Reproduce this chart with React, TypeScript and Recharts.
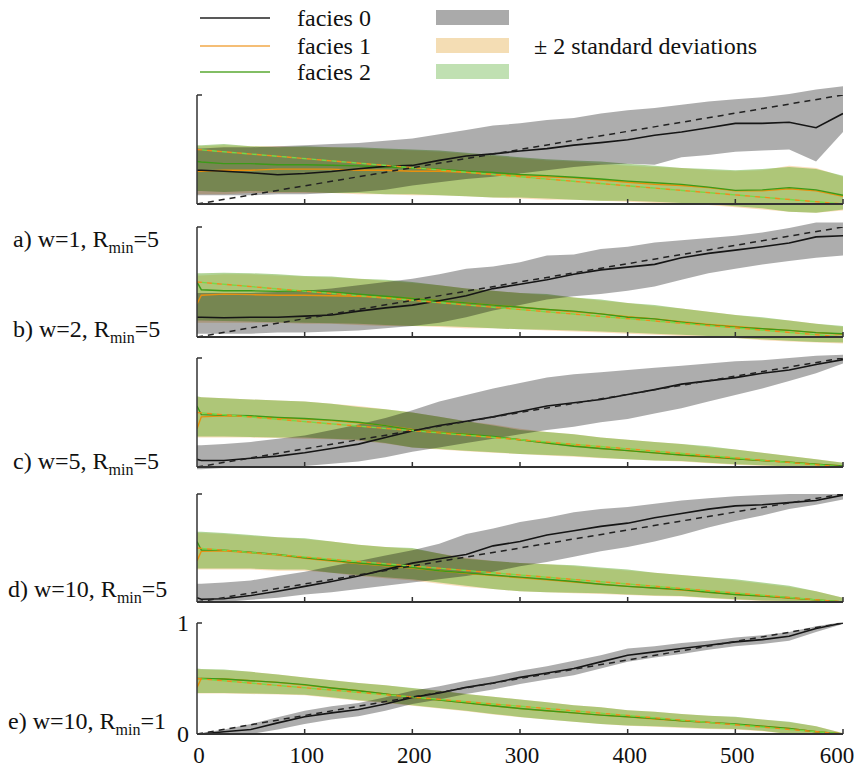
import React from "react";
import { Area, ComposedChart, Line, XAxis, YAxis } from "recharts";

// sample positions along the x axis (extra point at 4 for the start-up jump)
const xs = [0, 4, 25, 50, 75, 100, 125, 150, 175, 200, 225, 250, 275, 300, 325, 350, 375, 400, 425, 450, 475, 500, 525, 550, 575, 600];
const xTicks = [0, 100, 200, 300, 400, 500, 600];

// theoretical proportions (dashed lines)
const idealX = [0, 600];
const ideal0 = [0, 1];
const ideal12 = [0.5, 0];

// a) w=1, Rmin=5
const aF0 = [0.31, 0.31, 0.30, 0.286, 0.268, 0.28, 0.298, 0.323, 0.345, 0.354, 0.40, 0.44, 0.46, 0.486, 0.508, 0.54, 0.563, 0.59, 0.63, 0.66, 0.70, 0.74, 0.74, 0.75, 0.70, 0.83];
const aF0Hi = [0.51, 0.51, 0.52, 0.52, 0.53, 0.54, 0.55, 0.56, 0.58, 0.60, 0.64, 0.68, 0.72, 0.74, 0.77, 0.79, 0.83, 0.86, 0.88, 0.91, 0.94, 0.96, 0.98, 1.01, 1.05, 1.08];
const aF0Lo = [0.08, 0.08, 0.08, 0.08, 0.09, 0.09, 0.10, 0.11, 0.13, 0.17, 0.20, 0.23, 0.25, 0.28, 0.31, 0.34, 0.36, 0.37, 0.36, 0.43, 0.45, 0.48, 0.49, 0.50, 0.39, 0.66];
const aF1 = [0.30, 0.30, 0.31, 0.31, 0.32, 0.32, 0.32, 0.31, 0.31, 0.30, 0.30, 0.29, 0.27, 0.26, 0.25, 0.24, 0.22, 0.20, 0.18, 0.17, 0.15, 0.12, 0.12, 0.14, 0.12, 0.07];
const aF1Hi = [0.53, 0.53, 0.54, 0.53, 0.53, 0.52, 0.52, 0.51, 0.50, 0.49, 0.48, 0.46, 0.44, 0.42, 0.40, 0.39, 0.37, 0.35, 0.34, 0.33, 0.31, 0.30, 0.31, 0.35, 0.33, 0.25];
const aF1Lo = [0.09, 0.09, 0.09, 0.10, 0.10, 0.10, 0.10, 0.09, 0.09, 0.08, 0.08, 0.07, 0.06, 0.05, 0.04, 0.04, 0.03, 0.02, 0.01, 0.0, -0.01, -0.03, -0.05, -0.07, -0.08, -0.06];
const aF2 = [0.39, 0.385, 0.37, 0.37, 0.36, 0.36, 0.355, 0.35, 0.34, 0.33, 0.32, 0.30, 0.29, 0.27, 0.26, 0.245, 0.23, 0.21, 0.195, 0.18, 0.155, 0.125, 0.13, 0.15, 0.13, 0.08];
const aF2Hi = [0.54, 0.54, 0.55, 0.53, 0.52, 0.53, 0.52, 0.52, 0.51, 0.50, 0.49, 0.47, 0.45, 0.43, 0.41, 0.40, 0.39, 0.37, 0.35, 0.33, 0.32, 0.31, 0.32, 0.34, 0.32, 0.26];
const aF2Lo = [0.12, 0.12, 0.11, 0.12, 0.11, 0.11, 0.10, 0.10, 0.09, 0.09, 0.08, 0.07, 0.06, 0.06, 0.05, 0.04, 0.03, 0.03, 0.02, 0.01, 0.0, -0.02, -0.04, -0.07, -0.08, -0.05];

// b) w=2, Rmin=5
const bF0 = [0.18, 0.18, 0.175, 0.18, 0.18, 0.19, 0.20, 0.235, 0.265, 0.29, 0.33, 0.375, 0.44, 0.48, 0.52, 0.57, 0.61, 0.635, 0.66, 0.72, 0.76, 0.79, 0.82, 0.855, 0.91, 0.92];
const bF0Hi = [0.40, 0.40, 0.40, 0.40, 0.41, 0.42, 0.44, 0.47, 0.50, 0.53, 0.57, 0.62, 0.64, 0.68, 0.74, 0.75, 0.80, 0.82, 0.86, 0.88, 0.90, 0.92, 0.95, 0.99, 1.04, 1.04];
const bF0Lo = [0.03, 0.03, 0.03, 0.03, 0.04, 0.04, 0.05, 0.06, 0.08, 0.10, 0.13, 0.18, 0.24, 0.29, 0.34, 0.37, 0.39, 0.42, 0.46, 0.52, 0.58, 0.62, 0.66, 0.69, 0.72, 0.74];
const bF1 = [0.30, 0.38, 0.39, 0.385, 0.38, 0.38, 0.375, 0.37, 0.36, 0.35, 0.33, 0.31, 0.29, 0.27, 0.25, 0.23, 0.21, 0.185, 0.165, 0.14, 0.115, 0.095, 0.075, 0.06, 0.04, 0.025];
const bF1Hi = [0.56, 0.56, 0.57, 0.57, 0.56, 0.55, 0.54, 0.53, 0.51, 0.49, 0.47, 0.44, 0.42, 0.40, 0.38, 0.36, 0.33, 0.31, 0.28, 0.26, 0.23, 0.20, 0.17, 0.15, 0.12, 0.09];
const bF1Lo = [0.13, 0.13, 0.13, 0.13, 0.13, 0.12, 0.12, 0.11, 0.10, 0.10, 0.09, 0.08, 0.08, 0.07, 0.06, 0.05, 0.04, 0.03, 0.02, 0.01, 0.0, -0.01, -0.03, -0.04, -0.05, -0.06];
const bF2 = [0.50, 0.43, 0.42, 0.42, 0.415, 0.42, 0.41, 0.39, 0.37, 0.35, 0.33, 0.31, 0.29, 0.27, 0.25, 0.235, 0.21, 0.18, 0.165, 0.135, 0.11, 0.09, 0.075, 0.06, 0.04, 0.03];
const bF2Hi = [0.58, 0.58, 0.585, 0.58, 0.57, 0.555, 0.55, 0.53, 0.52, 0.50, 0.47, 0.44, 0.42, 0.40, 0.39, 0.36, 0.34, 0.31, 0.29, 0.26, 0.23, 0.20, 0.18, 0.15, 0.12, 0.10];
const bF2Lo = [0.15, 0.15, 0.145, 0.14, 0.135, 0.13, 0.125, 0.12, 0.11, 0.10, 0.10, 0.09, 0.08, 0.07, 0.065, 0.06, 0.05, 0.04, 0.03, 0.02, 0.01, -0.01, -0.02, -0.035, -0.045, -0.05];

// c) w=5, Rmin=5
const cF0 = [0.07, 0.06, 0.06, 0.08, 0.10, 0.13, 0.17, 0.21, 0.27, 0.33, 0.38, 0.42, 0.46, 0.51, 0.56, 0.59, 0.62, 0.665, 0.71, 0.76, 0.79, 0.82, 0.86, 0.89, 0.94, 0.985];
const cF0Hi = [0.20, 0.20, 0.21, 0.23, 0.26, 0.29, 0.34, 0.39, 0.45, 0.52, 0.60, 0.66, 0.72, 0.77, 0.82, 0.85, 0.87, 0.89, 0.91, 0.93, 0.95, 0.97, 0.98, 1.0, 1.02, 1.03];
const cF0Lo = [-0.02, -0.02, -0.01, 0.0, 0.0, 0.01, 0.03, 0.05, 0.09, 0.14, 0.18, 0.22, 0.26, 0.30, 0.34, 0.37, 0.41, 0.44, 0.49, 0.54, 0.60, 0.66, 0.72, 0.79, 0.86, 0.95];
const cF1 = [0.35, 0.46, 0.47, 0.465, 0.45, 0.44, 0.425, 0.405, 0.38, 0.345, 0.32, 0.30, 0.275, 0.25, 0.22, 0.195, 0.17, 0.15, 0.13, 0.11, 0.09, 0.075, 0.06, 0.045, 0.025, 0.01];
const cF1Hi = [0.64, 0.64, 0.63, 0.62, 0.61, 0.60, 0.58, 0.56, 0.53, 0.50, 0.46, 0.42, 0.39, 0.35, 0.32, 0.30, 0.27, 0.25, 0.23, 0.21, 0.18, 0.16, 0.13, 0.10, 0.07, 0.04];
const cF1Lo = [0.27, 0.27, 0.27, 0.27, 0.265, 0.26, 0.255, 0.24, 0.215, 0.18, 0.16, 0.145, 0.13, 0.12, 0.105, 0.095, 0.08, 0.07, 0.06, 0.05, 0.035, 0.02, 0.01, 0.0, -0.005, -0.01];
const cF2 = [0.56, 0.48, 0.475, 0.47, 0.455, 0.445, 0.43, 0.41, 0.38, 0.34, 0.315, 0.30, 0.28, 0.25, 0.22, 0.19, 0.17, 0.15, 0.13, 0.11, 0.095, 0.075, 0.06, 0.045, 0.025, 0.01];
const cF2Hi = [0.65, 0.64, 0.63, 0.62, 0.61, 0.60, 0.58, 0.55, 0.53, 0.50, 0.46, 0.42, 0.38, 0.34, 0.32, 0.30, 0.27, 0.25, 0.23, 0.21, 0.19, 0.16, 0.13, 0.10, 0.07, 0.04];
const cF2Lo = [0.28, 0.28, 0.28, 0.275, 0.27, 0.27, 0.26, 0.25, 0.22, 0.18, 0.165, 0.15, 0.135, 0.12, 0.11, 0.10, 0.085, 0.07, 0.06, 0.055, 0.04, 0.025, 0.015, 0.005, 0.0, -0.005];

// d) w=10, Rmin=5
const dF0 = [0.04, 0.025, 0.03, 0.06, 0.10, 0.145, 0.19, 0.24, 0.30, 0.36, 0.40, 0.44, 0.52, 0.56, 0.62, 0.66, 0.70, 0.73, 0.78, 0.82, 0.86, 0.89, 0.90, 0.92, 0.94, 0.99];
const dF0Hi = [0.17, 0.17, 0.18, 0.20, 0.24, 0.28, 0.33, 0.38, 0.43, 0.48, 0.54, 0.63, 0.68, 0.74, 0.78, 0.83, 0.86, 0.88, 0.91, 0.94, 0.96, 0.98, 0.99, 1.0, 1.0, 1.0];
const dF0Lo = [0.0, 0.0, 0.0, 0.02, 0.04, 0.07, 0.09, 0.12, 0.15, 0.18, 0.21, 0.24, 0.28, 0.33, 0.37, 0.42, 0.47, 0.51, 0.56, 0.62, 0.69, 0.75, 0.80, 0.86, 0.90, 0.95];
const dF1 = [0.38, 0.47, 0.475, 0.455, 0.435, 0.405, 0.38, 0.355, 0.335, 0.315, 0.29, 0.265, 0.245, 0.225, 0.205, 0.185, 0.165, 0.145, 0.13, 0.11, 0.09, 0.07, 0.055, 0.035, 0.02, 0.0];
const dF1Hi = [0.64, 0.64, 0.63, 0.61, 0.60, 0.58, 0.56, 0.53, 0.51, 0.49, 0.45, 0.41, 0.38, 0.36, 0.35, 0.33, 0.31, 0.29, 0.27, 0.25, 0.23, 0.20, 0.17, 0.14, 0.10, 0.04];
const dF1Lo = [0.30, 0.30, 0.30, 0.30, 0.29, 0.29, 0.27, 0.24, 0.22, 0.20, 0.17, 0.14, 0.12, 0.10, 0.09, 0.08, 0.075, 0.065, 0.055, 0.05, 0.035, 0.02, 0.01, 0.005, -0.005, -0.01];
const dF2 = [0.56, 0.48, 0.48, 0.46, 0.44, 0.41, 0.385, 0.36, 0.34, 0.32, 0.29, 0.27, 0.25, 0.23, 0.21, 0.19, 0.165, 0.145, 0.13, 0.115, 0.09, 0.07, 0.055, 0.04, 0.02, 0.0];
const dF2Hi = [0.65, 0.65, 0.64, 0.62, 0.60, 0.59, 0.56, 0.53, 0.51, 0.50, 0.45, 0.40, 0.38, 0.36, 0.35, 0.34, 0.32, 0.30, 0.27, 0.25, 0.23, 0.21, 0.18, 0.15, 0.10, 0.04];
const dF2Lo = [0.31, 0.31, 0.31, 0.31, 0.30, 0.30, 0.27, 0.25, 0.23, 0.21, 0.18, 0.15, 0.12, 0.10, 0.09, 0.085, 0.08, 0.07, 0.06, 0.055, 0.04, 0.025, 0.015, 0.01, 0.0, -0.005];

// e) w=10, Rmin=1
const eF0 = [0.0, 0.0, 0.02, 0.04, 0.10, 0.155, 0.19, 0.22, 0.27, 0.33, 0.37, 0.42, 0.46, 0.51, 0.55, 0.59, 0.65, 0.71, 0.74, 0.77, 0.80, 0.83, 0.85, 0.88, 0.95, 1.0];
const eF0Hi = [0.01, 0.01, 0.04, 0.09, 0.15, 0.21, 0.25, 0.28, 0.33, 0.39, 0.43, 0.48, 0.52, 0.57, 0.61, 0.66, 0.71, 0.77, 0.79, 0.82, 0.84, 0.87, 0.89, 0.92, 0.97, 1.01];
const eF0Lo = [-0.01, -0.01, 0.0, 0.0, 0.04, 0.09, 0.13, 0.16, 0.21, 0.27, 0.31, 0.36, 0.40, 0.45, 0.49, 0.53, 0.59, 0.65, 0.69, 0.72, 0.76, 0.79, 0.81, 0.84, 0.92, 0.99];
const eF1 = [0.42, 0.50, 0.495, 0.48, 0.465, 0.44, 0.415, 0.39, 0.36, 0.33, 0.305, 0.28, 0.255, 0.23, 0.21, 0.19, 0.17, 0.155, 0.135, 0.12, 0.105, 0.085, 0.07, 0.05, 0.02, 0.0];
const eF1Hi = [0.585, 0.58, 0.575, 0.56, 0.535, 0.51, 0.485, 0.46, 0.44, 0.41, 0.39, 0.36, 0.335, 0.31, 0.285, 0.26, 0.24, 0.215, 0.2, 0.18, 0.165, 0.15, 0.13, 0.105, 0.07, 0.01];
const eF1Lo = [0.365, 0.365, 0.365, 0.36, 0.355, 0.35, 0.325, 0.3, 0.28, 0.255, 0.23, 0.205, 0.175, 0.15, 0.13, 0.11, 0.09, 0.075, 0.065, 0.055, 0.045, 0.04, 0.025, 0.0, -0.005, -0.01];
const eF2 = [0.50, 0.50, 0.495, 0.48, 0.465, 0.445, 0.415, 0.39, 0.36, 0.33, 0.305, 0.28, 0.255, 0.23, 0.21, 0.19, 0.17, 0.155, 0.14, 0.12, 0.105, 0.09, 0.07, 0.05, 0.02, 0.0];
const eF2Hi = [0.59, 0.585, 0.58, 0.56, 0.535, 0.51, 0.485, 0.46, 0.44, 0.415, 0.39, 0.36, 0.335, 0.31, 0.285, 0.26, 0.24, 0.215, 0.2, 0.18, 0.165, 0.155, 0.13, 0.11, 0.07, 0.006];
const eF2Lo = [0.37, 0.37, 0.37, 0.365, 0.36, 0.354, 0.33, 0.305, 0.285, 0.26, 0.235, 0.21, 0.18, 0.154, 0.13, 0.11, 0.09, 0.077, 0.07, 0.06, 0.05, 0.046, 0.03, 0.0, -0.005, -0.006];

const panelData = [
  { name: "a) w=1, ", rmin: "5", f0: aF0, f0Hi: aF0Hi, f0Lo: aF0Lo, f1: aF1, f1Hi: aF1Hi, f1Lo: aF1Lo, f2: aF2, f2Hi: aF2Hi, f2Lo: aF2Lo },
  { name: "b) w=2, ", rmin: "5", f0: bF0, f0Hi: bF0Hi, f0Lo: bF0Lo, f1: bF1, f1Hi: bF1Hi, f1Lo: bF1Lo, f2: bF2, f2Hi: bF2Hi, f2Lo: bF2Lo },
  { name: "c) w=5, ", rmin: "5", f0: cF0, f0Hi: cF0Hi, f0Lo: cF0Lo, f1: cF1, f1Hi: cF1Hi, f1Lo: cF1Lo, f2: cF2, f2Hi: cF2Hi, f2Lo: cF2Lo },
  { name: "d) w=10, ", rmin: "5", f0: dF0, f0Hi: dF0Hi, f0Lo: dF0Lo, f1: dF1, f1Hi: dF1Hi, f1Lo: dF1Lo, f2: dF2, f2Hi: dF2Hi, f2Lo: dF2Lo },
  { name: "e) w=10, ", rmin: "1", f0: eF0, f0Hi: eF0Hi, f0Lo: eF0Lo, f1: eF1, f1Hi: eF1Hi, f1Lo: eF1Lo, f2: eF2, f2Hi: eF2Hi, f2Lo: eF2Lo },
];

// page layout (pixels)
const PLOT_LEFT = 197;
const PLOT_RIGHT = 843;
const panelTops = [95, 227, 358, 494, 623];
const panelBottoms = [204, 337, 467, 602, 734];
const labelBaselines = [247, 337, 469, 597, 729];
const labelLefts = [13, 13, 13, 8, 8];

const AXIS = "#333";
const SERIF = "'Liberation Serif', 'Times New Roman', serif";
const FONT_SIZE = 24;

function buildRows(p: any) {
  return xs.map((x, i) => {
    const k = idealX.indexOf(x);
    return {
      x,
      f0: p.f0[i],
      f0Band: [p.f0Lo[i], p.f0Hi[i]],
      f1: p.f1[i],
      f1Band: [p.f1Lo[i], p.f1Hi[i]],
      f2: p.f2[i],
      f2Band: [p.f2Lo[i], p.f2Hi[i]],
      ideal0: k >= 0 ? ideal0[k] : undefined,
      ideal12: k >= 0 ? ideal12[k] : undefined,
    };
  });
}

function Panel({ p, idx }: { p: any; idx: number }) {
  const last = idx === panelData.length - 1;
  const top = panelTops[idx];
  const h = panelBottoms[idx] - top;
  const mTop = 10;
  const mBottom = last ? 40 : 10;
  const rows = buildRows(p);

  const xTick = (props: any) => {
    const { x, y, payload } = props;
    // keep the right-most label inside the page
    const shift = payload.value === 600 ? -6 : 2;
    return (
      <g>
        {payload.value > 0 && <line x1={x} x2={x} y1={y} y2={y - 5} stroke={AXIS} strokeWidth={1.5} />}
        {last && (
          <text x={x + shift} y={y + 29} textAnchor="middle" fontFamily={SERIF} fontSize={23} fill="#111">
            {payload.value}
          </text>
        )}
      </g>
    );
  };

  const yTick = (props: any) => {
    const { x, y, payload } = props;
    return (
      <g>
        {payload.value === 1 && <line x1={x} x2={x + 5} y1={y} y2={y} stroke={AXIS} strokeWidth={1.5} />}
        {last && (
          <text x={x - 8} y={y + 8} textAnchor="end" fontFamily={SERIF} fontSize={FONT_SIZE} fill="#111">
            {payload.value}
          </text>
        )}
      </g>
    );
  };

  return (
    <div className="panel-chart" style={{ position: "absolute", left: 0, top: top - mTop }}>
      <ComposedChart
        width={857}
        height={h + mTop + mBottom}
        data={rows}
        margin={{ top: mTop, right: 857 - PLOT_RIGHT, bottom: mBottom - 1, left: PLOT_LEFT - 1 }}
      >
        <XAxis
          dataKey="x"
          type="number"
          domain={[0, 600]}
          ticks={xTicks}
          interval={0}
          allowDataOverflow
          height={1}
          tickSize={0}
          tickMargin={0}
          tickLine={false}
          axisLine={{ stroke: AXIS, strokeWidth: 1.8 }}
          tick={xTick}
        />
        <YAxis
          type="number"
          domain={[0, 1]}
          ticks={[0, 1]}
          interval={0}
          allowDataOverflow
          width={1}
          tickSize={0}
          tickMargin={0}
          tickLine={false}
          axisLine={{ stroke: AXIS, strokeWidth: 1.5 }}
          tick={yTick}
        />
        <Area dataKey="f1Band" type="linear" stroke="none" fill="#f5c07a" fillOpacity={0.5} isAnimationActive={false} activeDot={false} />
        <Area dataKey="f2Band" type="linear" stroke="none" fill="#6fb040" fillOpacity={0.55} isAnimationActive={false} activeDot={false} />
        <Area dataKey="f0Band" type="linear" stroke="none" fill="#000" fillOpacity={0.32} isAnimationActive={false} activeDot={false} />
        <Line dataKey="f1" type="linear" stroke="#e8900f" strokeWidth={1.4} dot={false} activeDot={false} isAnimationActive={false} />
        <Line dataKey="f2" type="linear" stroke="#3c9a18" strokeWidth={1.4} dot={false} activeDot={false} isAnimationActive={false} />
        <Line dataKey="f0" type="linear" stroke="#151515" strokeWidth={1.6} dot={false} activeDot={false} isAnimationActive={false} />
        <Line dataKey="ideal12" type="linear" connectNulls stroke="#f08a1c" strokeWidth={1.4} strokeDasharray="5 5" dot={false} activeDot={false} isAnimationActive={false} />
        <Line dataKey="ideal12" type="linear" connectNulls stroke="#78d848" strokeWidth={1.4} strokeDasharray="5 5" strokeDashoffset={5} dot={false} activeDot={false} isAnimationActive={false} />
        <Line dataKey="ideal0" type="linear" connectNulls stroke="#222" strokeWidth={1.5} strokeDasharray="6 5" dot={false} activeDot={false} isAnimationActive={false} />
      </ComposedChart>
    </div>
  );
}

function Overlay() {
  const legendRows = [
    { label: "facies 0", line: "#222", box: "#aaaaaa", y: 18 },
    { label: "facies 1", line: "#f2a848", box: "#f4ddb4", y: 46 },
    { label: "facies 2", line: "#58a830", box: "#c0e0b2", y: 72 },
  ];
  return (
    <svg width={857} height={767} style={{ position: "absolute", left: 0, top: 0 }}>
      {legendRows.map((r) => (
        <g key={r.label}>
          <line x1={200} x2={270} y1={r.y} y2={r.y} stroke={r.line} strokeWidth={1.5} />
          <text x={297} y={r.y + 8} fontFamily={SERIF} fontSize={FONT_SIZE} fill="#111">
            {r.label}
          </text>
          <rect x={436} y={r.y - 8} width={73} height={15} fill={r.box} />
        </g>
      ))}
      <text x={534} y={54} fontFamily={SERIF} fontSize={FONT_SIZE} fill="#111">
        ± 2 standard deviations
      </text>
      {panelData.map((p, i) => (
        <text key={p.name} x={labelLefts[i]} y={labelBaselines[i]} fontFamily={SERIF} fontSize={FONT_SIZE} fill="#111">
          {p.name}R
          <tspan dy={6} fontSize={16}>
            min
          </tspan>
          <tspan dy={-6}>={p.rmin}</tspan>
        </text>
      ))}
    </svg>
  );
}

export default function App() {
  return (
    <div style={{ position: "absolute", left: 0, top: 0, width: 857, height: 767, background: "#fff" }}>
      <style>{`.panel-chart svg { overflow: visible; } .panel-chart g[clip-path] { clip-path: none !important; }`}</style>
      <Overlay />
      {panelData.map((p, i) => (
        <Panel key={p.name} p={p} idx={i} />
      ))}
    </div>
  );
}
